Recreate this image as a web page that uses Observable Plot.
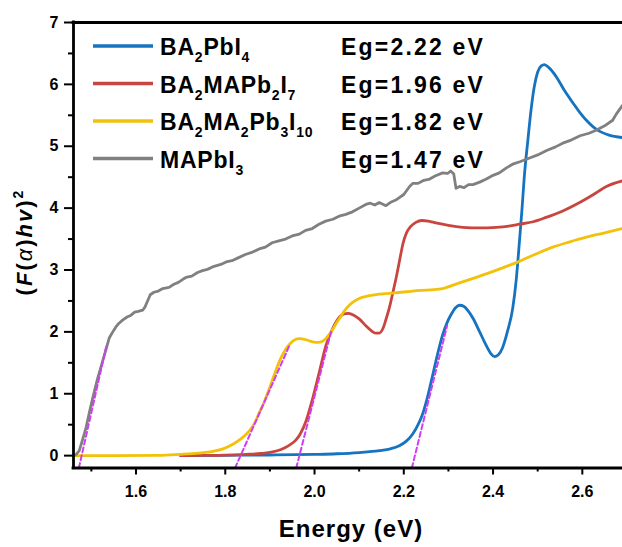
<!DOCTYPE html>
<html><head><meta charset="utf-8">
<script src="https://cdn.jsdelivr.net/npm/d3@7"></script>
<script src="https://cdn.jsdelivr.net/npm/@observablehq/plot@0.6"></script>
<style>body{margin:0;background:#fff} svg{display:block}</style>
</head><body><div id="chart"></div>
<script>
// ---- data (Energy in eV, (F(α)hν)^2) ----
const BA2PbI4 = [
 [1.70,0.00],[1.80,0.005],[1.90,0.01],[2.00,0.02],[2.05,0.03],[2.10,0.05],[2.145,0.08],[2.17,0.11],
 [2.19,0.16],[2.205,0.23],[2.22,0.35],[2.232,0.50],[2.242,0.67],[2.255,1.00],[2.265,1.31],[2.276,1.65],
 [2.287,1.95],[2.297,2.15],[2.306,2.28],[2.316,2.39],[2.325,2.43],[2.335,2.41],[2.345,2.33],[2.355,2.22],
 [2.370,2.00],[2.384,1.79],[2.395,1.65],[2.403,1.60],[2.412,1.63],[2.421,1.74],[2.432,2.00],[2.444,2.38],
 [2.452,2.85],[2.459,3.45],[2.465,4.00],[2.470,4.51],[2.478,5.10],[2.485,5.58],[2.492,5.95],[2.500,6.20],
 [2.508,6.30],[2.515,6.32],[2.525,6.27],[2.541,6.13],[2.560,5.90],[2.579,5.70],[2.595,5.54],[2.609,5.42],
 [2.625,5.31],[2.639,5.24],[2.660,5.18],[2.690,5.14]
];
const BA2MAPb2I7 = [
 [1.70,0.00],[1.75,0.003],[1.80,0.008],[1.846,0.02],[1.88,0.035],[1.906,0.06],[1.925,0.10],[1.944,0.17],
 [1.958,0.25],[1.968,0.35],[1.981,0.56],[1.996,0.93],[2.011,1.36],[2.026,1.79],[2.041,2.06],[2.056,2.24],
 [2.066,2.29],[2.076,2.30],[2.088,2.27],[2.100,2.21],[2.115,2.10],[2.127,2.02],[2.137,1.98],[2.145,1.98],
 [2.153,2.05],[2.160,2.20],[2.168,2.40],[2.176,2.65],[2.183,2.88],[2.191,3.17],[2.198,3.42],[2.206,3.60],
 [2.215,3.70],[2.227,3.77],[2.240,3.80],[2.255,3.79],[2.272,3.76],[2.300,3.72],[2.332,3.69],[2.370,3.68],
 [2.407,3.69],[2.435,3.71],[2.459,3.74],[2.490,3.78],[2.519,3.85],[2.555,3.95],[2.594,4.09],[2.625,4.22],
 [2.654,4.35],[2.690,4.44]
];
const BA2MA2Pb3I10 = [
 [1.462,0.00],[1.55,0.00],[1.65,0.005],[1.697,0.02],[1.740,0.04],[1.772,0.07],[1.795,0.11],[1.816,0.18],
 [1.835,0.27],[1.854,0.40],[1.866,0.53],[1.876,0.69],[1.888,0.88],[1.899,1.09],[1.910,1.31],[1.921,1.52],
 [1.933,1.69],[1.944,1.80],[1.955,1.87],[1.966,1.89],[1.978,1.88],[1.990,1.85],[2.003,1.83],[2.015,1.84],
 [2.025,1.89],[2.033,1.96],[2.044,2.08],[2.056,2.22],[2.067,2.34],[2.078,2.43],[2.090,2.50],[2.100,2.54],
 [2.120,2.58],[2.145,2.61],[2.180,2.63],[2.220,2.66],[2.260,2.68],[2.287,2.70],[2.320,2.78],[2.370,2.90],
 [2.420,3.03],[2.459,3.14],[2.500,3.27],[2.534,3.37],[2.570,3.45],[2.609,3.53],[2.650,3.60],[2.690,3.67]
];
const MAPbI3 = [
 [1.461,0.00],[1.466,0.02],[1.473,0.08],[1.480,0.25],[1.488,0.45],[1.495,0.68],[1.503,0.93],[1.513,1.22],
 [1.525,1.52],[1.533,1.72],[1.540,1.90],[1.548,2.00],[1.555,2.08],[1.562,2.14],[1.570,2.19],[1.580,2.24],
 [1.589,2.27],[1.597,2.32],[1.605,2.33],[1.615,2.35],[1.620,2.40],[1.626,2.50],[1.632,2.60],[1.640,2.64],
 [1.650,2.66],[1.660,2.70],[1.674,2.72],[1.685,2.77],[1.695,2.80],[1.705,2.85],[1.712,2.88],[1.725,2.90],
 [1.738,2.96],[1.749,2.99],[1.760,3.01],[1.775,3.06],[1.790,3.09],[1.802,3.13],[1.815,3.15],[1.830,3.20],
 [1.845,3.25],[1.861,3.29],[1.876,3.34],[1.890,3.37],[1.905,3.44],[1.920,3.47],[1.935,3.50],[1.950,3.55],
 [1.966,3.58],[1.980,3.64],[1.995,3.67],[2.010,3.74],[2.025,3.79],[2.041,3.82],[2.055,3.87],[2.070,3.90],
 [2.085,3.94],[2.100,4.00],[2.115,4.06],[2.125,4.08],[2.135,4.05],[2.145,4.09],[2.160,4.04],[2.172,4.10],
 [2.182,4.13],[2.190,4.17],[2.200,4.22],[2.213,4.35],[2.220,4.40],[2.232,4.40],[2.245,4.45],[2.258,4.47],
 [2.270,4.52],[2.287,4.57],[2.298,4.56],[2.305,4.60],[2.312,4.55],[2.317,4.32],[2.325,4.35],[2.335,4.33],
 [2.345,4.38],[2.355,4.38],[2.370,4.42],[2.385,4.47],[2.400,4.53],[2.414,4.57],[2.430,4.65],[2.444,4.71],
 [2.460,4.75],[2.482,4.81],[2.500,4.86],[2.520,4.93],[2.540,4.99],[2.556,5.05],[2.575,5.10],[2.595,5.17],
 [2.615,5.21],[2.631,5.26],[2.650,5.33],[2.668,5.42],[2.676,5.52],[2.682,5.58],[2.690,5.66]
];
// tangent (Tauc) fit lines: [E_start, y_start, E_end, y_end]
const tangentLines = [
 [1.472,-0.2,1.533,1.75],
 [1.822,-0.2,1.945,1.80],
 [1.959,-0.2,2.037,2.00],
 [2.218,-0.2,2.297,2.10]
];
const seriesLabels = ["BA{2}PbI{4}", "BA{2}MAPb{2}I{7}", "BA{2}MA{2}Pb{3}I{10}", "MAPbI{3}"];
const seriesColors = ["#1673c0", "#c8463f", "#f2c20a", "#808080"];
const bandGaps = ["Eg=2.22 eV", "Eg=1.96 eV", "Eg=1.82 eV", "Eg=1.47 eV"];
const xMajor = [1.6, 1.8, 2.0, 2.2, 2.4, 2.6];
const xMinor = [1.5, 1.7, 1.9, 2.1, 2.3, 2.5];
const yMajor = [0, 1, 2, 3, 4, 5, 6, 7];
const yMinor = [0.5, 1.5, 2.5, 3.5, 4.5, 5.5, 6.5];
const xDomain = [1.46, 2.69];
const yDomain = [-0.2, 7];

const seriesData = [BA2PbI4, BA2MAPb2I7, BA2MA2Pb3I10, MAPbI3];
const tangentData = tangentLines.flatMap((t, i) => [{id: i, x: t[0], y: t[1]}, {id: i, x: t[2], y: t[3]}]);

const fontFam = "'Liberation Sans', Arial, Helvetica, sans-serif";
const plot = Plot.plot({
  width: 622, height: 547,
  marginLeft: 73, marginRight: 0, marginTop: 22, marginBottom: 79.5,
  x: {domain: xDomain},
  y: {domain: yDomain},
  style: {fontFamily: fontFam, fontWeight: "bold", fontSize: "16px", color: "#000", background: "#fff", overflow: "visible"},
  marks: [
    Plot.axisX({ticks: xMajor, tickSize: 7, tickPadding: 11, tickFormat: d3.format(".1f"), strokeWidth: 2, fontSize: 16, label: null}),
    Plot.axisX({ticks: xMinor, tickSize: 4, tickFormat: () => "", strokeWidth: 2, label: null}),
    Plot.axisY({ticks: yMajor, tickSize: 9, tickPadding: 6, tickFormat: d3.format("d"), strokeWidth: 2, fontSize: 16, label: null}),
    Plot.axisY({ticks: yMinor, tickSize: 5, tickFormat: () => "", strokeWidth: 2, label: null}),
    ...seriesData.map((s, i) => Plot.line(s, {x: d => d[0], y: d => d[1], stroke: seriesColors[i], strokeWidth: 2.8,
      curve: i === 3 ? "linear" : "monotone-x", clip: true})),
    Plot.line(tangentData, {x: "x", y: "y", z: "id", stroke: "#d23cf5", strokeWidth: 2, strokeDasharray: "5,3", clip: true}),
    Plot.ruleY([yDomain[1]], {strokeWidth: 2.8, strokeLinecap: "square"}),
    Plot.ruleY([yDomain[0]], {strokeWidth: 2.8, strokeLinecap: "square"}),
    Plot.ruleX([xDomain[0]], {strokeWidth: 2.8, strokeLinecap: "square"})
  ]
});
document.getElementById("chart").appendChild(plot);

const svg = d3.select(plot);
// rich text helper: {n} => subscript
function richText(sel, str, subSize, shift) {
  const parts = str.split(/(\{[^}]*\})/).filter(p => p.length);
  let down = false;
  parts.forEach(p => {
    if (p.startsWith("{")) {
      sel.append("tspan").attr("dy", down ? 0 : shift).style("font-size", subSize + "px").text(p.slice(1, -1));
      down = true;
    } else {
      sel.append("tspan").attr("dy", down ? -shift : 0).text(p);
      down = false;
    }
  });
}
const leg = svg.append("g").style("font-family", fontFam).style("font-weight", "bold").attr("text-anchor", "start");
seriesLabels.forEach((lab, i) => {
  const y = 46 + i * 37.5;
  leg.append("line").attr("x1", 93).attr("x2", 153).attr("y1", y).attr("y2", y)
    .attr("stroke", seriesColors[i]).attr("stroke-width", 3.4);
  const t = leg.append("text").attr("x", 160).attr("y", y + 9).attr("text-anchor", "start")
    .style("font-size", "23px").style("letter-spacing", "0.8px");
  richText(t, lab, 14, 7);
  leg.append("text").attr("x", 341).attr("y", y + 9).attr("text-anchor", "start")
    .style("font-size", "23px").style("letter-spacing", "2.2px").text(bandGaps[i]);
});
// axis titles
svg.append("text").attr("x", 351).attr("y", 537).attr("text-anchor", "middle")
  .style("font-family", fontFam).style("font-weight", "bold").style("font-size", "24px").style("letter-spacing", "1px")
  .text("Energy (eV)");
const yl = svg.append("text").attr("transform", "translate(32,242) rotate(-90)").attr("text-anchor", "middle")
  .style("font-family", fontFam).style("font-weight", "bold").style("font-size", "22px").style("letter-spacing", "2px");
yl.append("tspan").text("(");
yl.append("tspan").style("font-style", "italic").text("F");
yl.append("tspan").text("(");
yl.append("tspan").style("font-style", "italic").style("font-weight", "normal").text("α");
yl.append("tspan").text(")");
yl.append("tspan").style("font-style", "italic").text("hv");
yl.append("tspan").text(")");
yl.append("tspan").attr("dy", -9).style("font-size", "14px").text("2");
</script>
</body></html>
